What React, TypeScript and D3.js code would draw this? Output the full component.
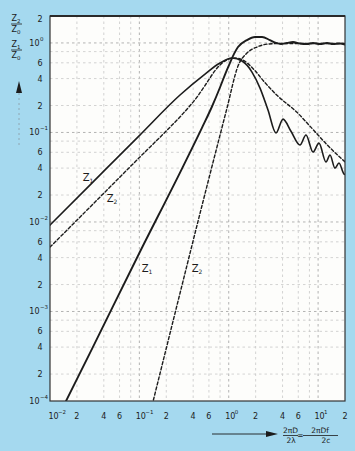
import React, { useEffect } from "react";
import * as d3 from "d3";

// ---------- data ----------
// Z1 (solid) – reactive part: rises with slope 1, peaks, then decays with ripples
const z1ReactX = [0.01, 0.03, 0.1, 0.285, 0.543, 0.798, 1.088, 1.41, 1.82, 2.24, 2.75, 3.38, 4.05, 4.97, 6.27, 7.32, 8.77, 10.23, 12.26, 13.59, 15.45, 17.13, 19.49, 20];
const z1ReactY = [0.00923, 0.0277, 0.0923, 0.262, 0.449, 0.596, 0.678, 0.628, 0.473, 0.313, 0.178, 0.0985, 0.141, 0.1032, 0.0723, 0.0935, 0.0604, 0.0761, 0.0467, 0.0559, 0.04, 0.0455, 0.0343, 0.034];

// Z1 (solid) – resistive part: slope 2, overshoot, then ~1 with ripples
const z1ResX = [0.0145, 0.03, 0.1, 0.3, 0.5, 0.65, 0.8, 0.93, 1.033, 1.15, 1.27, 1.6, 1.97, 2.36, 2.89, 3.38, 3.84, 4.49, 5.24, 6.27, 7.51, 8.77, 10.5, 12.58, 14.68, 17.58, 20];
const z1ResY = [0.000092, 0.000395, 0.0045, 0.0395, 0.112, 0.195, 0.32, 0.47, 0.6, 0.76, 0.9, 1.077, 1.164, 1.164, 1.077, 1.0, 0.972, 1.0, 1.023, 0.985, 0.972, 1.0, 0.972, 1.0, 0.972, 0.985, 0.96];

// Z2 (dashed) – reactive part
const z2ReactX = [0.01, 0.03, 0.1, 0.2, 0.3, 0.45, 0.58, 0.702, 0.85, 1.0, 1.175, 1.444, 1.966, 2.545, 3.467, 5.8, 8.77, 12.58, 20];
const z2ReactY = [0.00524, 0.0157, 0.0524, 0.104, 0.158, 0.255, 0.37, 0.49, 0.6, 0.66, 0.678, 0.644, 0.49, 0.36, 0.26, 0.168, 0.108, 0.073, 0.047];

// Z2 (dashed) – resistive part: slope 4, then ~1
const z2ResX = [0.139, 0.285, 0.5, 0.758, 0.956, 1.27, 1.6, 2.07, 2.75, 3.75, 20];
const z2ResY = [0.00009, 0.0016, 0.015, 0.0761, 0.187, 0.552, 0.771, 0.9, 0.972, 0.985, 0.985];

// tick labels
const xTickValues = [0.01, 0.02, 0.04, 0.06, 0.1, 0.2, 0.4, 0.6, 1, 2, 4, 6, 10, 20];
const xTickText = ["10", "2", "4", "6", "10", "2", "4", "6", "10", "2", "4", "6", "10", "2"];
const xTickSup = ["−2", "", "", "", "−1", "", "", "", "0", "", "", "", "1", ""];

const yTickValues = [2, 1, 0.6, 0.4, 0.2, 0.1, 0.06, 0.04, 0.02, 0.01, 0.006, 0.004, 0.002, 0.001, 0.0006, 0.0004, 0.0002, 0.0001];
const yTickText = ["2", "10", "6", "4", "2", "10", "6", "4", "2", "10", "6", "4", "2", "10", "6", "4", "2", "10"];
const yTickSup = ["", "0", "", "", "", "−1", "", "", "", "−2", "", "", "", "−3", "", "", "", "−4"];

const gridMultiples = [1, 2, 4, 6, 8];
const decades = [-4, -3, -2, -1, 0, 1];

// curve labels (data coordinates of label baseline)
const curveLabelX = [0.0266, 0.0494, 0.1217, 0.4416];
const curveLabelY = [0.0286, 0.0167, 0.00275, 0.00275];
const curveLabelSub = ["1", "2", "1", "2"];

const W = 355;
const H = 451;
const PL = 50, PR = 345, PT = 16, PB = 401;
const FONT = "'DejaVu Sans', sans-serif";
const BLUE = "#a5d9ef";
const INK = "#1c1c1c";

export default function App() {
  useEffect(() => {
    document.body.style.margin = "0";
  }, []);

  const x = d3.scaleLog().domain([0.01, 20]).range([PL, PR]);
  const y = d3.scaleLog().domain([1e-4, 2]).range([PB, PT]);

  const line = d3
    .line<[number, number]>()
    .x((d) => x(d[0]))
    .y((d) => y(d[1]))
    .curve(d3.curveMonotoneX);

  const zip = (a: number[], b: number[]) => a.map((v, i) => [v, b[i]] as [number, number]);

  const gridX: number[] = [];
  const gridY: number[] = [];
  decades.forEach((e) => {
    gridMultiples.forEach((m) => {
      const v = m * Math.pow(10, e);
      if (v > 0.01 && v < 20) gridX.push(v);
      if (v > 1e-4 && v < 2) gridY.push(v);
    });
  });
  const isDecade = (v: number) => Math.abs(Math.log10(v) - Math.round(Math.log10(v))) < 1e-6;

  return (
    <svg width={W} height={H} style={{ position: "absolute", left: 0, top: 0, display: "block" }} fontFamily={FONT}>
      <defs>
        <clipPath id="plotClip">
          <rect x={PL} y={PT} width={PR - PL} height={PB - PT} />
        </clipPath>
      </defs>
      <rect x={0} y={0} width={W} height={H} fill={BLUE} />
      <rect x={PL} y={PT} width={PR - PL} height={PB - PT} fill="#fdfdfb" />

      {/* grid */}
      <g strokeWidth={0.8} strokeDasharray="2.5,3">
        {gridX.map((v, i) => (
          <line key={"gx" + i} x1={x(v)} x2={x(v)} y1={PT} y2={PB} stroke={isDecade(v) ? "#a0a0a0" : "#c8c8c8"} />
        ))}
        {gridY.map((v, i) => (
          <line key={"gy" + i} x1={PL} x2={PR} y1={y(v)} y2={y(v)} stroke={isDecade(v) ? "#a0a0a0" : "#c8c8c8"} />
        ))}
      </g>

      {/* curves */}
      <g clipPath="url(#plotClip)" fill="none" stroke={INK} strokeLinejoin="round" strokeLinecap="round">
        <path d={line(zip(z2ResX, z2ResY)) || ""} strokeWidth={1.4} strokeDasharray="3,2.2" />
        <path d={line(zip(z2ReactX, z2ReactY)) || ""} strokeWidth={1.4} strokeDasharray="3,2.2" />
        <path d={line(zip(z1ResX, z1ResY)) || ""} strokeWidth={1.9} />
        <path d={line(zip(z1ReactX, z1ReactY)) || ""} strokeWidth={1.6} />
      </g>

      {/* frame */}
      <rect x={PL} y={PT} width={PR - PL} height={PB - PT} fill="none" stroke="#333" strokeWidth={1.2} />
      <line x1={PL} x2={PR} y1={PT} y2={PT} stroke="#2a2a2a" strokeWidth={2} />

      {/* curve labels */}
      {curveLabelX.map((v, i) => (
        <text key={"cl" + i} x={x(v)} y={y(curveLabelY[i])} fontSize={10} fill={INK} textAnchor="middle">
          Z<tspan fontSize={6} dy={2}>{curveLabelSub[i]}</tspan>
        </text>
      ))}

      {/* x tick labels */}
      {xTickValues.map((v, i) => (
        <g key={"xt" + i} fontSize={8} fill={INK}>
          <text x={x(v) + (xTickSup[i] ? (i === 0 ? 3.5 : 1.5) : 0)} y={419} textAnchor="middle">
            {xTickText[i]}
          </text>
          {xTickSup[i] && (
            <text x={x(v) + (i === 0 ? 8 : 6)} y={414} fontSize={5.5}>
              {xTickSup[i]}
            </text>
          )}
        </g>
      ))}

      {/* y tick labels */}
      {yTickValues.map((v, i) => (
        <g key={"yt" + i} fontSize={8} fill={INK}>
          {yTickSup[i] ? (
            <>
              <text x={39.5} y={y(v) + 3} textAnchor="end">
                {yTickText[i]}
              </text>
              <text x={40} y={y(v) - 2} fontSize={5.5}>
                {yTickSup[i]}
              </text>
            </>
          ) : (
            <text x={40} y={y(v) + (i === 0 ? 6 : 3)} textAnchor="middle">
              {yTickText[i]}
            </text>
          )}
        </g>
      ))}

      {/* y axis title */}
      <g fill={INK} fontSize={8} textAnchor="middle">
        <text x={16} y={21}>Z<tspan fontSize={5.5} dy={1.5}>2</tspan></text>
        <line x1={11} x2={22} y1={24} y2={24} stroke={INK} strokeWidth={0.8} />
        <text x={16} y={32}>Z<tspan fontSize={5.5} dy={1.5}>0</tspan></text>
        <text x={16} y={47}>Z<tspan fontSize={5.5} dy={1.5}>1</tspan></text>
        <line x1={11} x2={22} y1={50} y2={50} stroke={INK} strokeWidth={0.8} />
        <text x={16} y={58}>Z<tspan fontSize={5.5} dy={1.5}>0</tspan></text>
      </g>
      <path d="M19,81 L22,93 L16,93 Z" fill={INK} />
      <line x1={19} x2={19} y1={93} y2={145} stroke="#8a9aa3" strokeWidth={0.8} strokeDasharray="2,3" />

      {/* x axis title */}
      <line x1={212} x2={268} y1={434} y2={434} stroke={INK} strokeWidth={0.9} />
      <path d="M278,434 L266,431 L266,437 Z" fill={INK} />
      <g fill={INK} fontSize={7.5} textAnchor="middle">
        <text x={290.5} y={433}>2πD</text>
        <line x1={283} x2={298} y1={435.5} y2={435.5} stroke={INK} strokeWidth={0.8} />
        <text x={291} y={443}>2λ</text>
        <text x={300.5} y={438}>=</text>
        <text x={320} y={433}>2πDf</text>
        <line x1={303} x2={338} y1={435.5} y2={435.5} stroke={INK} strokeWidth={0.8} />
        <text x={326} y={443}>2c</text>
      </g>
    </svg>
  );
}
